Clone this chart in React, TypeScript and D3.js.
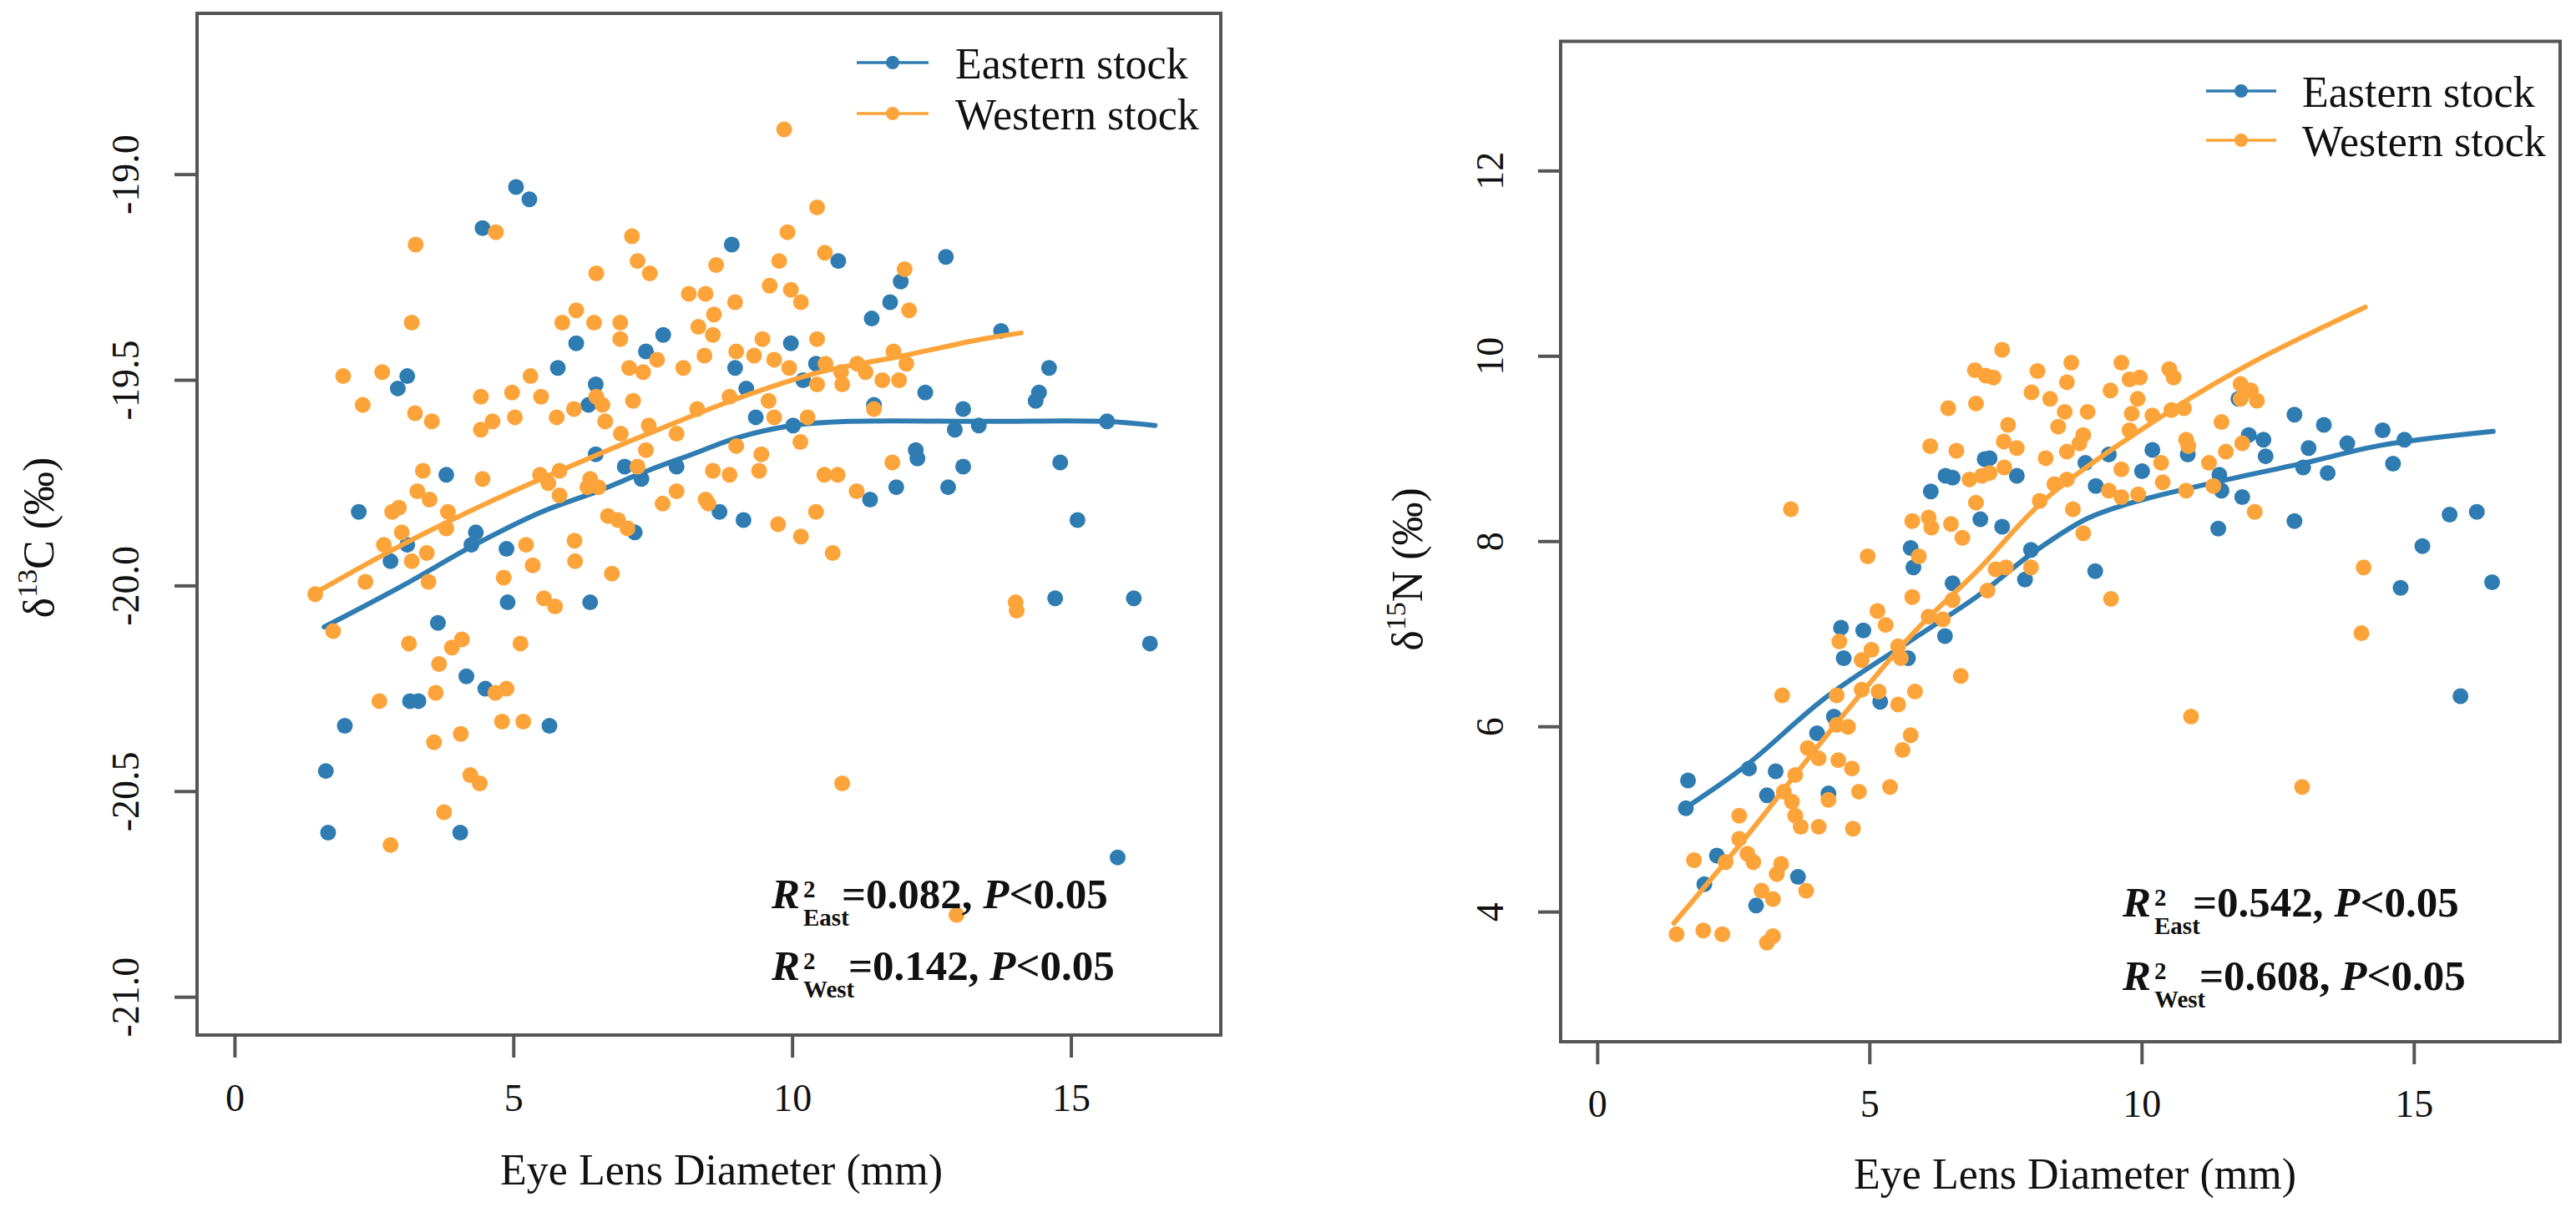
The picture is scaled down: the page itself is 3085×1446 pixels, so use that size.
import * as d3 from "d3";

type Pt = [number, number];

// ---- data ----

// left panel: d13C (per mil) vs eye lens diameter (mm)
const eastC13: Pt[] = [
  [5.04, -19.03], [5.28, -19.06], [4.44, -19.13], [3.09, -19.49], [2.92, -19.52], [6.12, -19.41],
  [5.79, -19.47], [6.47, -19.51], [6.34, -19.56], [7.37, -19.43], [3.79, -19.73], [2.22, -19.82],
  [2.79, -19.94], [3.09, -19.9], [4.32, -19.87], [4.24, -19.9], [4.87, -19.91], [6.47, -19.68],
  [6.99, -19.71], [7.29, -19.74], [7.17, -19.87], [4.89, -20.04], [6.37, -20.04], [3.64, -20.09],
  [4.15, -20.22], [4.49, -20.25], [3.14, -20.28], [3.29, -20.28], [1.97, -20.34], [5.64, -20.34],
  [1.63, -20.45], [1.67, -20.6], [4.04, -20.6],
  [8.91, -19.17], [10.82, -19.21], [12.75, -19.2], [11.94, -19.26], [11.75, -19.31], [11.42, -19.35],
  [7.68, -19.39], [9.97, -19.41], [8.97, -19.47], [10.42, -19.46], [9.17, -19.52], [10.19, -19.5],
  [9.34, -19.59], [10.01, -19.61], [12.38, -19.53], [11.46, -19.56], [13.06, -19.57], [12.91, -19.62],
  [13.34, -19.61], [12.21, -19.67], [12.24, -19.69], [13.06, -19.71], [7.92, -19.71], [11.86, -19.76],
  [12.79, -19.76], [11.39, -19.79], [8.69, -19.82], [9.12, -19.84],
  [13.74, -19.38], [14.6, -19.47], [14.36, -19.55], [14.42, -19.53], [14.8, -19.7], [15.11, -19.84],
  [15.64, -19.6], [14.71, -20.03], [16.12, -20.03], [16.41, -20.14], [15.83, -20.66],
];

const westC13: Pt[] = [
  [3.24, -19.17], [4.68, -19.14], [7.12, -19.15], [7.22, -19.21], [6.48, -19.24], [7.44, -19.24],
  [3.17, -19.36], [6.12, -19.33], [5.87, -19.36], [6.44, -19.36], [6.91, -19.36], [6.91, -19.4],
  [1.94, -19.49], [2.64, -19.48], [2.29, -19.56], [3.23, -19.58], [3.53, -19.6], [4.41, -19.54],
  [4.97, -19.53], [5.3, -19.49], [5.49, -19.54], [4.41, -19.62], [4.62, -19.6], [5.02, -19.59],
  [5.77, -19.59], [6.08, -19.57], [6.48, -19.54], [6.59, -19.56], [6.64, -19.6], [6.92, -19.63],
  [7.14, -19.55], [7.07, -19.47], [7.32, -19.48], [7.42, -19.61], [3.37, -19.72], [4.44, -19.74],
  [3.27, -19.77], [3.49, -19.79], [2.82, -19.82], [2.94, -19.81], [3.82, -19.82], [3.79, -19.86],
  [2.99, -19.87], [2.67, -19.9], [3.17, -19.94], [3.44, -19.92], [2.34, -19.99], [3.47, -19.99],
  [1.44, -20.02], [5.47, -19.73], [5.62, -19.75], [5.82, -19.72], [5.82, -19.78], [6.37, -19.74],
  [6.52, -19.76], [6.32, -19.76], [7.22, -19.71], [7.37, -19.67], [6.69, -19.83], [6.87, -19.84],
  [7.04, -19.86], [5.22, -19.9], [5.34, -19.95], [4.82, -19.98], [6.09, -19.89], [6.1, -19.94],
  [6.76, -19.97], [5.54, -20.03], [5.74, -20.05], [1.76, -20.11], [3.12, -20.14], [3.89, -20.15],
  [4.07, -20.13], [3.66, -20.19], [5.12, -20.14], [3.6, -20.26], [4.67, -20.26], [4.87, -20.25],
  [2.59, -20.28], [4.79, -20.33], [5.17, -20.33], [3.57, -20.38], [4.05, -20.36], [4.22, -20.46],
  [4.39, -20.48], [3.75, -20.55], [2.79, -20.63],
  [10.44, -19.08], [9.91, -19.14], [10.58, -19.19], [9.76, -19.21], [8.63, -19.22], [12.01, -19.23],
  [12.09, -19.33], [8.14, -19.29], [8.44, -19.29], [9.59, -19.27], [9.97, -19.28], [10.15, -19.31],
  [8.97, -19.31], [8.59, -19.34], [8.31, -19.37], [8.57, -19.39], [10.44, -19.4], [9.46, -19.4],
  [8.99, -19.43], [9.31, -19.44], [9.67, -19.45], [8.04, -19.47], [8.42, -19.44], [7.57, -19.45],
  [9.94, -19.47], [10.59, -19.46], [10.87, -19.48], [11.16, -19.46], [11.81, -19.43], [12.04, -19.46],
  [11.31, -19.48], [10.44, -19.51], [10.89, -19.51], [11.61, -19.5], [11.91, -19.5], [8.87, -19.54],
  [9.57, -19.55], [8.29, -19.57], [9.67, -19.59], [10.27, -19.59], [11.46, -19.57], [7.92, -19.63],
  [10.14, -19.65], [8.99, -19.66], [9.44, -19.68], [9.4, -19.72], [11.79, -19.7], [10.57, -19.73],
  [10.81, -19.73], [8.57, -19.72], [8.87, -19.73], [11.15, -19.77], [7.67, -19.8], [7.92, -19.77],
  [8.44, -19.79], [8.49, -19.8], [10.42, -19.82], [9.74, -19.85], [10.15, -19.88], [10.72, -19.92],
  [10.89, -20.48], [9.85, -18.89], [14.0, -20.04], [14.02, -20.06], [12.94, -20.8],
];

// right panel: d15N (per mil) vs eye lens diameter (mm)
const eastN15: Pt[] = [
  [1.66, 5.42], [1.62, 5.12], [2.19, 4.61], [1.96, 4.3], [2.91, 4.07], [3.11, 5.26], [2.78, 5.55],
  [3.27, 5.52], [3.68, 4.38], [4.03, 5.93], [4.34, 6.11], [4.24, 5.28], [4.47, 7.07], [4.88, 7.04],
  [4.52, 6.74], [5.19, 6.27], [5.7, 6.74], [6.38, 6.98], [6.52, 7.55], [5.75, 7.93], [5.8, 7.72],
  [6.12, 8.54], [6.39, 8.71], [6.52, 8.69], [7.11, 8.89], [7.03, 8.24],
  [12.8, 9.37], [13.34, 9.26], [14.42, 9.2], [13.77, 9.06], [13.06, 9.01], [14.82, 9.1],
  [12.27, 8.92], [12.96, 8.8], [13.41, 8.74], [14.61, 8.84], [12.23, 9.1], [11.96, 9.15],
  [11.84, 8.48], [12.8, 8.22], [11.4, 8.14], [11.42, 8.72], [11.46, 8.55], [15.65, 8.29],
  [16.15, 8.32], [15.15, 7.95], [14.75, 7.5], [16.43, 7.56], [10.19, 8.99], [10.0, 8.76],
  [9.39, 8.94], [8.96, 8.85], [9.15, 8.6], [7.2, 8.9], [7.7, 8.71], [7.43, 8.16], [7.96, 7.91],
  [7.85, 7.59], [9.14, 7.68], [10.84, 8.94], [11.77, 9.54], [15.85, 6.33],
];

const westN15: Pt[] = [
  [3.55, 8.35], [4.96, 7.84], [6.93, 9.85], [6.95, 9.49], [7.13, 9.79], [6.44, 9.44], [6.11, 9.03],
  [6.59, 8.98], [6.83, 8.67], [7.06, 8.71], [5.78, 8.22], [6.08, 8.26], [6.13, 8.15], [6.49, 8.19],
  [6.7, 8.04], [6.95, 8.42], [5.9, 7.84], [5.78, 7.4], [6.52, 7.37], [6.08, 7.19], [6.34, 7.16],
  [5.14, 7.25], [5.29, 7.1], [4.44, 6.92], [4.85, 6.72], [5.03, 6.83], [5.52, 6.87], [5.57, 6.74],
  [6.67, 6.55], [4.39, 6.34], [4.85, 6.4], [5.16, 6.38], [5.52, 6.24], [5.83, 6.38], [3.39, 6.34],
  [4.39, 6.02], [4.6, 6.0], [3.86, 5.77], [4.06, 5.66], [4.42, 5.64], [4.67, 5.55], [5.75, 5.91],
  [5.6, 5.75], [3.63, 5.48], [3.42, 5.3], [3.57, 5.19], [4.24, 5.21], [4.8, 5.3], [5.37, 5.35],
  [3.73, 4.92], [4.06, 4.92], [4.69, 4.9], [2.6, 5.04], [2.6, 4.79], [2.75, 4.63], [2.86, 4.54],
  [1.77, 4.56], [2.35, 4.54], [3.37, 4.52], [3.29, 4.41], [3.83, 4.23], [3.01, 4.23], [3.22, 4.14],
  [1.45, 3.76], [1.94, 3.8], [2.29, 3.76], [3.22, 3.74], [3.11, 3.67], [3.63, 5.04],
  [7.43, 10.07], [7.27, 9.77], [8.08, 9.84], [8.7, 9.93], [9.62, 9.93], [10.5, 9.86], [10.58, 9.77],
  [8.62, 9.72], [9.77, 9.75], [9.96, 9.77], [9.42, 9.63], [9.92, 9.54], [7.97, 9.61], [8.31, 9.54],
  [8.58, 9.4], [9.0, 9.4], [9.81, 9.38], [10.19, 9.36], [10.54, 9.42], [10.77, 9.44], [11.81, 9.7],
  [12.0, 9.63], [12.11, 9.52], [11.81, 9.54], [7.54, 9.26], [8.46, 9.24], [7.46, 9.08], [7.7, 9.01],
  [8.92, 9.15], [9.77, 9.2], [11.46, 9.29], [8.23, 8.9], [8.62, 8.97], [8.85, 9.06], [7.2, 8.74],
  [7.47, 8.8], [8.39, 8.62], [8.62, 8.67], [9.62, 8.78], [10.35, 8.85], [10.81, 9.1], [10.85, 9.03],
  [11.23, 8.85], [11.54, 8.97], [11.84, 9.06], [9.39, 8.55], [9.62, 8.48], [9.93, 8.51], [10.38, 8.64],
  [10.81, 8.55], [11.31, 8.6], [8.12, 8.44], [8.73, 8.35], [8.92, 8.09], [12.07, 8.32], [7.31, 7.7],
  [7.5, 7.72], [7.96, 7.72], [7.16, 7.47], [9.43, 7.38], [14.07, 7.72], [14.03, 7.01], [10.9, 6.11],
  [12.94, 5.35],
];

// fitted smooth curves
const eastC13Fit: Pt[] = [
  [1.6, -20.1], [3.0, -20.0], [4.3, -19.9], [5.5, -19.82], [6.5, -19.77], [7.4, -19.72], [8.2, -19.68],
  [9.0, -19.64], [10.0, -19.61], [11.0, -19.6], [13.5, -19.6], [15.6, -19.6], [16.5, -19.61],
];
const westC13Fit: Pt[] = [
  [1.4, -20.02], [3.0, -19.9], [4.5, -19.8], [6.0, -19.71], [7.5, -19.625], [9.0, -19.545],
  [10.5, -19.48], [12.0, -19.44], [13.4, -19.4], [14.1, -19.385],
];
const eastN15Fit: Pt[] = [
  [1.6, 5.12], [2.7, 5.57], [4.2, 6.32], [5.8, 6.95], [7.0, 7.42], [8.0, 7.88], [9.0, 8.25],
  [10.0, 8.45], [11.5, 8.66], [13.0, 8.85], [14.4, 9.04], [16.45, 9.19],
];
const westN15Fit: Pt[] = [
  [1.4, 3.88], [2.7, 4.79], [4.24, 5.93], [5.78, 7.0], [7.0, 7.7], [8.23, 8.46], [10.54, 9.42],
  [12.08, 9.95], [14.1, 10.53],
];

const xTicks = [0, 5, 10, 15];
const c13Ticks = [-21.0, -20.5, -20.0, -19.5, -19.0];
const n15Ticks = [4, 6, 8, 10, 12];
const stockNames = ["Eastern stock", "Western stock"];
const stockSubs = ["East", "West"];
const c13R2 = ["0.082", "0.142"];
const n15R2 = ["0.542", "0.608"];

const BLUE = "#2e7cb1";
const ORANGE = "#fca43a";
const AXIS = "#555555";
const FONT = "'Liberation Serif', 'Times New Roman', serif";

// R default: axis range padded by 4% on each side
const pad = (lo: number, hi: number): [number, number] => {
  const d = (hi - lo) * 0.04;
  return [lo - d, hi + d];
};

interface Layout {
  left: number; right: number; top: number; bottom: number;
  yLabelX: number; yTitleX: number; yTitleY: number;
  xLabelY: number; xTitleX: number; xTitleY: number;
  legX1: number; legX2: number; legTextX: number; legY: number[];
  r2X: number; r2Y: number[];
}

interface PanelProps {
  lay: Layout;
  yLim: [number, number];
  yTicks: number[];
  yFmt: (v: number) => string;
  east: Pt[]; west: Pt[]; eastFit: Pt[]; westFit: Pt[];
  iso: string; element: string;
  r2: string[];
}

const Panel = ({ lay, yLim, yTicks, yFmt, east, west, eastFit, westFit, iso, element, r2 }: PanelProps) => {
  const x = d3.scaleLinear().domain(pad(0, 17)).range([lay.left, lay.right]);
  const y = d3.scaleLinear().domain(pad(yLim[0], yLim[1])).range([lay.bottom, lay.top]);
  const line = d3.line<Pt>()
    .x((d) => x(d[0]))
    .y((d) => y(d[1]))
    .curve(d3.curveCatmullRom.alpha(0.5));
  const tick = 27;
  const colors = [BLUE, ORANGE];

  return (
    <g fontFamily={FONT}>
      {/* points and fits */}
      {east.map((d, i) => (
        <circle key={"e" + i} cx={x(d[0])} cy={y(d[1])} r={9.5} fill={BLUE} />
      ))}
      <path d={line(eastFit) ?? ""} fill="none" stroke={BLUE} strokeWidth={6} strokeLinecap="round" />
      {west.map((d, i) => (
        <circle key={"w" + i} cx={x(d[0])} cy={y(d[1])} r={9.5} fill={ORANGE} />
      ))}
      <path d={line(westFit) ?? ""} fill="none" stroke={ORANGE} strokeWidth={6} strokeLinecap="round" />

      {/* box */}
      <rect x={lay.left} y={lay.top} width={lay.right - lay.left} height={lay.bottom - lay.top}
        fill="none" stroke={AXIS} strokeWidth={4} />

      {/* x axis */}
      {xTicks.map((t) => (
        <g key={"x" + t}>
          <line x1={x(t)} x2={x(t)} y1={lay.bottom} y2={lay.bottom + tick} stroke={AXIS} strokeWidth={4} />
          <text x={x(t)} y={lay.xLabelY} textAnchor="middle" fontSize={46} fill="#111">{t}</text>
        </g>
      ))}
      <text x={lay.xTitleX} y={lay.xTitleY} textAnchor="middle" fontSize={52} fill="#111">
        Eye Lens Diameter (mm)
      </text>

      {/* y axis */}
      {yTicks.map((t) => (
        <g key={"y" + t}>
          <line x1={lay.left - tick} x2={lay.left} y1={y(t)} y2={y(t)} stroke={AXIS} strokeWidth={4} />
          <text transform={`translate(${lay.yLabelX},${y(t)}) rotate(-90)`} textAnchor="middle"
            fontSize={46} fill="#111">{yFmt(t)}</text>
        </g>
      ))}
      <text transform={`translate(${lay.yTitleX},${lay.yTitleY}) rotate(-90)`} textAnchor="middle"
        fontSize={52} fill="#111">
        δ<tspan fontSize={34} dy={-20}>{iso}</tspan>
        <tspan dy={20}>{element} (‰)</tspan>
      </text>

      {/* legend */}
      {stockNames.map((name, i) => (
        <g key={name}>
          <line x1={lay.legX1} x2={lay.legX2} y1={lay.legY[i]} y2={lay.legY[i]} stroke={colors[i]} strokeWidth={3.5} />
          <circle cx={(lay.legX1 + lay.legX2) / 2} cy={lay.legY[i]} r={8} fill={colors[i]} />
          <text x={lay.legTextX} y={lay.legY[i] + 19} fontSize={52} fill="#111">{name}</text>
        </g>
      ))}

      {/* statistics */}
      {r2.map((v, i) => {
        const bx = lay.r2X;
        const by = lay.r2Y[i];
        return (
          <g key={"r" + i} fontWeight="bold" fill="#111">
            <text x={bx} y={by} fontSize={51} fontStyle="italic">R</text>
            <text x={bx + 38} y={by - 13} fontSize={29}>2</text>
            <text x={bx + 38} y={by + 21} fontSize={29}>{stockSubs[i]}</text>
            <text x={bx + (i === 0 ? 84 : 92)} y={by} fontSize={51}>
              ={v}, <tspan fontStyle="italic">P</tspan>&lt;0.05
            </text>
          </g>
        );
      })}
    </g>
  );
};

const leftLayout: Layout = {
  left: 236, right: 1462, top: 16, bottom: 1240,
  yLabelX: 166, yTitleX: 64, yTitleY: 644,
  xLabelY: 1331, xTitleX: 864, xTitleY: 1419,
  legX1: 1026, legX2: 1112, legTextX: 1144, legY: [75, 136],
  r2X: 924, r2Y: [1088, 1174],
};

const rightLayout: Layout = {
  left: 1869, right: 3066, top: 49.5, bottom: 1248,
  yLabelX: 1800, yTitleX: 1703, yTitleY: 682,
  xLabelY: 1338, xTitleX: 2485, xTitleY: 1424,
  legX1: 2642, legX2: 2726, legTextX: 2757, legY: [109, 168],
  r2X: 2542, r2Y: [1098, 1186],
};

export default function App() {
  return (
    <svg width={3085} height={1446} style={{ position: "absolute", left: 0, top: 0, background: "#fff" }}>
      <rect width={3085} height={1446} fill="#fff" />
      <Panel lay={leftLayout} yLim={[-21.0, -18.7]} yTicks={c13Ticks} yFmt={(v) => v.toFixed(1)}
        east={eastC13} west={westC13} eastFit={eastC13Fit} westFit={westC13Fit}
        iso="13" element="C" r2={c13R2} />
      <Panel lay={rightLayout} yLim={[3, 13]} yTicks={n15Ticks} yFmt={(v) => String(v)}
        east={eastN15} west={westN15} eastFit={eastN15Fit} westFit={westN15Fit}
        iso="15" element="N" r2={n15R2} />
    </svg>
  );
}
